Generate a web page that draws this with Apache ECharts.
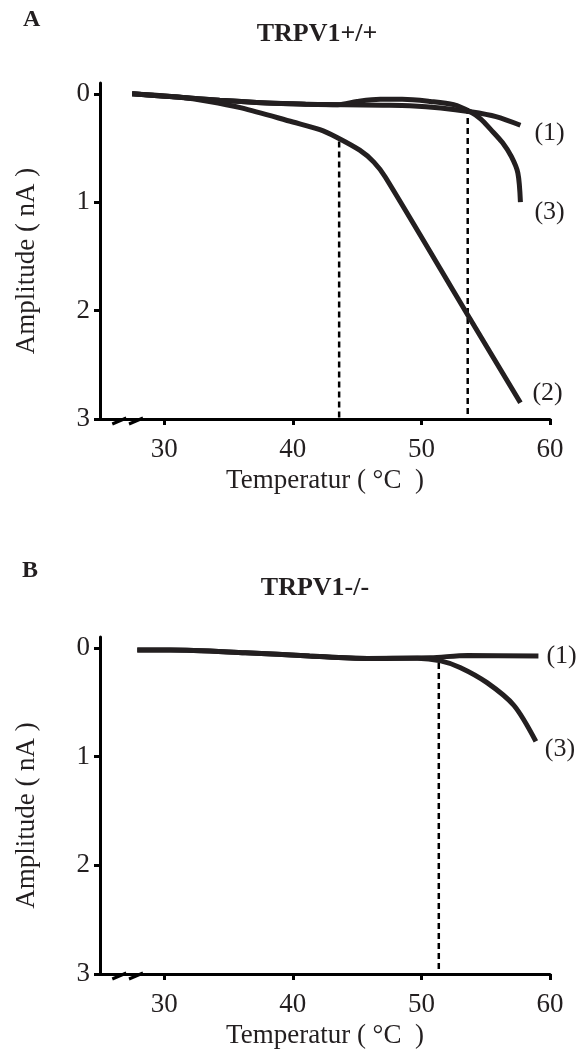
<!DOCTYPE html>
<html>
<head>
<meta charset="utf-8">
<script src="https://cdn.jsdelivr.net/npm/echarts@6/dist/echarts.min.js"></script>
<style>
  html, body { margin: 0; padding: 0; background: #ffffff; }
  #chart { width: 578px; height: 1053px; }
</style>
</head>
<body>
<div id="chart"></div>
<script>
// Tick labels for both panels
const tempTicks = [30, 40, 50, 60];
const ampTicks = [0, 1, 2, 3];

// Panel A (TRPV1+/+): [temperature °C, amplitude nA]
const wtCurve1 = [[27.5, 0.0], [31, 0.03], [34.3, 0.06], [38, 0.085], [41, 0.095], [44, 0.10], [47, 0.105], [49.1, 0.11], [51.5, 0.13], [53.8, 0.165], [55.8, 0.21], [57.7, 0.29]];
const wtCurve2 = [[27.5, 0.0], [31, 0.03], [33.5, 0.07], [36, 0.13], [40, 0.26], [42.1, 0.33], [43.4, 0.40], [45.2, 0.52], [46.3, 0.63], [47.2, 0.77], [53.6, 2.04], [57.7, 2.85]];
const wtCurve3 = [[27.5, 0.0], [31, 0.03], [34.3, 0.06], [38, 0.085], [41, 0.095], [43.5, 0.10], [45, 0.07], [46.8, 0.05], [48.5, 0.05], [50.7, 0.07], [52.5, 0.10], [53.8, 0.165], [54.6, 0.23], [55.4, 0.33], [56.3, 0.45], [57.0, 0.58], [57.5, 0.73], [57.7, 1.0]];
const wtThreshold1 = [[43.6, 0.44], [43.6, 3]];
const wtThreshold2 = [[53.6, 0.13], [53.6, 3]];

// Panel B (TRPV1-/-)
const koCurve1 = [[27.9, 0.02], [30.5, 0.02], [36.3, 0.045], [41.3, 0.075], [45.8, 0.097], [50.7, 0.09], [53.6, 0.07], [59.1, 0.075]];
const koCurve3 = [[27.9, 0.02], [30.5, 0.02], [36.3, 0.045], [41.3, 0.075], [45.8, 0.097], [49.7, 0.095], [51.5, 0.12], [53.0, 0.18], [55.1, 0.32], [57.2, 0.53], [58.9, 0.86]];
const koThreshold = [[51.35, 0.14], [51.35, 3]];

const FONT = '"Liberation Serif", "DejaVu Serif", serif';
const INK = '#231f20';

function xAxisFor(gridIndex) {
  return {
    type: 'value', gridIndex: gridIndex, min: 25, max: 60,
    name: 'Temperatur ( °C  )', nameLocation: 'middle', nameGap: 48,
    nameTextStyle: { fontFamily: FONT, fontSize: 27, color: INK },
    axisLine: { show: true, onZero: false, lineStyle: { color: '#000', width: 3 } },
    axisTick: { show: true, length: 6, lineStyle: { color: '#000', width: 3 }, customValues: tempTicks },
    axisLabel: { fontFamily: FONT, fontSize: 27, color: INK, margin: 17, customValues: tempTicks },
    splitLine: { show: false }
  };
}
function yAxisFor(gridIndex) {
  return {
    type: 'value', gridIndex: gridIndex, min: -0.1, max: 3, inverse: true,
    name: 'Amplitude ( nA )', nameLocation: 'middle', nameGap: 60, nameRotate: 90,
    nameTextStyle: { fontFamily: FONT, fontSize: 27, color: INK, padding: [0, 20, 0, 0] },
    axisLine: { show: true, onZero: false, lineStyle: { color: '#000', width: 3 } },
    axisTick: { show: true, length: 6, lineStyle: { color: '#000', width: 3 }, customValues: ampTicks },
    axisLabel: { fontFamily: FONT, fontSize: 27, color: INK, margin: 10, customValues: ampTicks },
    splitLine: { show: false }
  };
}

function curve(data, gridIndex, label, offset) {
  return {
    type: 'line', xAxisIndex: gridIndex, yAxisIndex: gridIndex, data: data,
    symbol: 'none', smooth: 0.3, clip: false,
    lineStyle: { color: INK, width: 5, cap: 'butt' },
    endLabel: { show: true, formatter: label, offset: offset, fontFamily: FONT, fontSize: 26, color: INK },
    z: 3
  };
}
function threshold(data, gridIndex) {
  return {
    type: 'line', xAxisIndex: gridIndex, yAxisIndex: gridIndex, data: data,
    symbol: 'none', lineStyle: { color: '#000', width: 2.5, type: [6, 4] }, z: 2
  };
}

const chart = echarts.init(document.getElementById('chart'), null, { renderer: 'canvas' });
chart.setOption({
  backgroundColor: '#ffffff',
  animation: false,
  title: [
    { text: 'A', left: 18, top: 3, textStyle: { fontFamily: FONT, fontSize: 24, fontWeight: 'bold', color: INK } },
    { text: 'TRPV1+/+', left: 312, top: 16, textAlign: 'center', textStyle: { fontFamily: FONT, fontSize: 26, fontWeight: 'bold', color: INK } },
    { text: 'B', left: 17, top: 554, textStyle: { fontFamily: FONT, fontSize: 24, fontWeight: 'bold', color: INK } },
    { text: 'TRPV1-/-', left: 310, top: 570, textAlign: 'center', textStyle: { fontFamily: FONT, fontSize: 26, fontWeight: 'bold', color: INK } }
  ],
  grid: [
    { left: 100, right: 28, top: 83, height: 336 },
    { left: 100, right: 28, top: 637, height: 337 }
  ],
  xAxis: [xAxisFor(0), xAxisFor(1)],
  yAxis: [yAxisFor(0), yAxisFor(1)],
  series: [
    curve(wtCurve1, 0, '(1)', [6, 8]),
    curve(wtCurve2, 0, '(2)', [4, -10]),
    curve(wtCurve3, 0, '(3)', [6, 10]),
    threshold(wtThreshold1, 0),
    threshold(wtThreshold2, 0),
    curve(koCurve1, 1, '(1)', [0, 0]),
    curve(koCurve3, 1, '(3)', [1, 8]),
    threshold(koThreshold, 1)
  ]
});

// Axis-break slashes on each temperature axis
const breaks = [];
[0, 1].forEach(function (g) {
  [26.5, 27.8].forEach(function (t) {
    const p = chart.convertToPixel({ xAxisIndex: g, yAxisIndex: g }, [t, 3]);
    breaks.push({
      type: 'line', z: 10,
      shape: { x1: p[0] - 7, y1: p[1] + 5, x2: p[0] + 7, y2: p[1] - 1 },
      style: { stroke: '#000', lineWidth: 3 }
    });
  });
});
chart.setOption({ graphic: breaks });
</script>
</body>
</html>
